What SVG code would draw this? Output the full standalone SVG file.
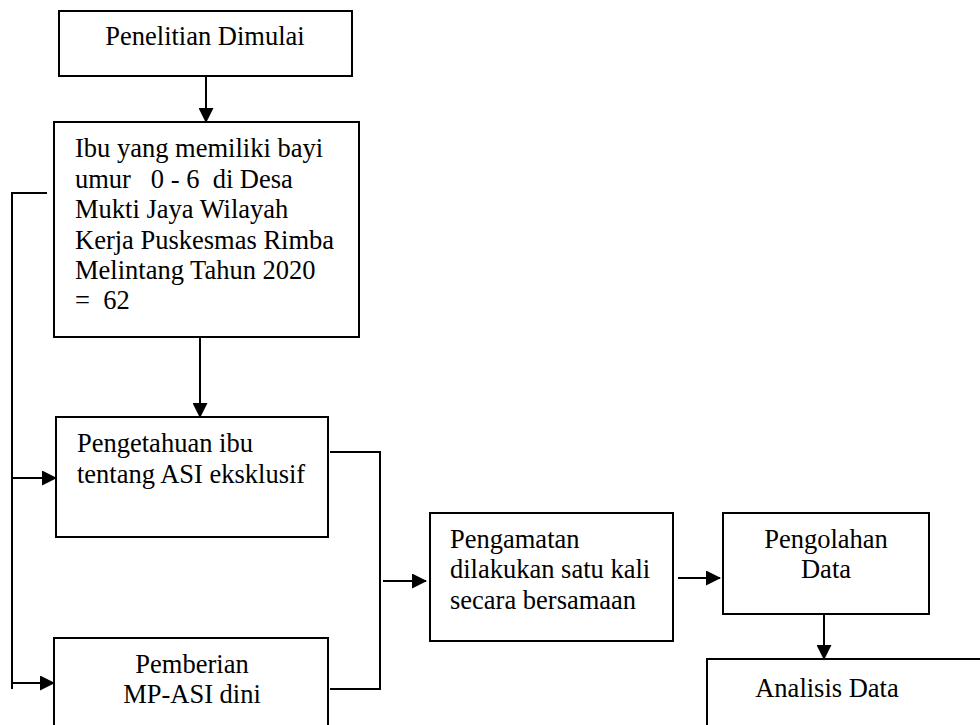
<svg xmlns="http://www.w3.org/2000/svg" width="980" height="725" viewBox="0 0 980 725">
<style>
.box{fill:#fff;stroke:#000;stroke-width:2}
.ln{fill:none;stroke:#000;stroke-width:2}
.t{font-family:"Liberation Serif",serif;font-size:26.5px;fill:#000}
.c{text-anchor:middle}
</style>
<defs>
<marker id="ah" markerWidth="15" markerHeight="15" refX="14" refY="7.5" orient="auto" markerUnits="userSpaceOnUse">
<path d="M0,0 L15,7.5 L0,15 Z" fill="#000"/>
</marker>
</defs>
<rect width="980" height="725" fill="#fff"/>
<g id="connectors">
<line class="ln" x1="206" y1="76" x2="206" y2="122" marker-end="url(#ah)"/>
<line class="ln" x1="200" y1="337" x2="200" y2="417" marker-end="url(#ah)"/>
<polyline class="ln" points="47,193 12,193 12,689"/>
<line class="ln" x1="11" y1="478" x2="56" y2="478" marker-end="url(#ah)"/>
<line class="ln" x1="11" y1="683" x2="54" y2="683" marker-end="url(#ah)"/>
<polyline class="ln" points="330,452 380,452 380,689 330,689"/>
<line class="ln" x1="383" y1="581" x2="426" y2="581" marker-end="url(#ah)"/>
<line class="ln" x1="678" y1="578" x2="720" y2="578" marker-end="url(#ah)"/>
<line class="ln" x1="824" y1="614" x2="824" y2="659" marker-end="url(#ah)"/>
</g>
<g id="n1">
<rect class="box" x="59" y="11" width="293" height="65"/>
<text class="t c" font-family="Liberation Serif" x="205" y="45">Penelitian Dimulai</text>
</g>
<g id="n2">
<rect class="box" x="54" y="122" width="305" height="215"/>
<text class="t" font-family="Liberation Serif" x="75" y="157">Ibu yang memiliki bayi</text>
<text class="t" font-family="Liberation Serif" x="75" y="188">umur &#160; 0 - 6 &#160;di Desa</text>
<text class="t" font-family="Liberation Serif" x="75" y="218">Mukti Jaya Wilayah</text>
<text class="t" font-family="Liberation Serif" x="75" y="249">Kerja Puskesmas Rimba</text>
<text class="t" font-family="Liberation Serif" x="75" y="279">Melintang Tahun 2020</text>
<text class="t" font-family="Liberation Serif" x="75" y="309">= &#160;62</text>
</g>
<g id="n3">
<rect class="box" x="56" y="417" width="272" height="120"/>
<text class="t" font-family="Liberation Serif" x="77" y="452">Pengetahuan ibu</text>
<text class="t" font-family="Liberation Serif" x="77" y="483">tentang ASI eksklusif</text>
</g>
<g id="n4">
<rect class="box" x="54" y="638" width="274" height="100"/>
<text class="t c" font-family="Liberation Serif" x="192" y="673">Pemberian</text>
<text class="t c" font-family="Liberation Serif" x="192" y="703">MP-ASI dini</text>
</g>
<g id="n5">
<rect class="box" x="430" y="513" width="243" height="128"/>
<text class="t" font-family="Liberation Serif" x="450" y="548">Pengamatan</text>
<text class="t" font-family="Liberation Serif" x="450" y="578">dilakukan satu kali</text>
<text class="t" font-family="Liberation Serif" x="450" y="609">secara bersamaan</text>
</g>
<g id="n6">
<rect class="box" x="723" y="513" width="206" height="101"/>
<text class="t c" font-family="Liberation Serif" x="826" y="548">Pengolahan</text>
<text class="t c" font-family="Liberation Serif" x="826" y="578">Data</text>
</g>
<g id="n7">
<rect class="box" x="707" y="659" width="290" height="100"/>
<text class="t c" font-family="Liberation Serif" x="827" y="697">Analisis Data</text>
</g>
</svg>
